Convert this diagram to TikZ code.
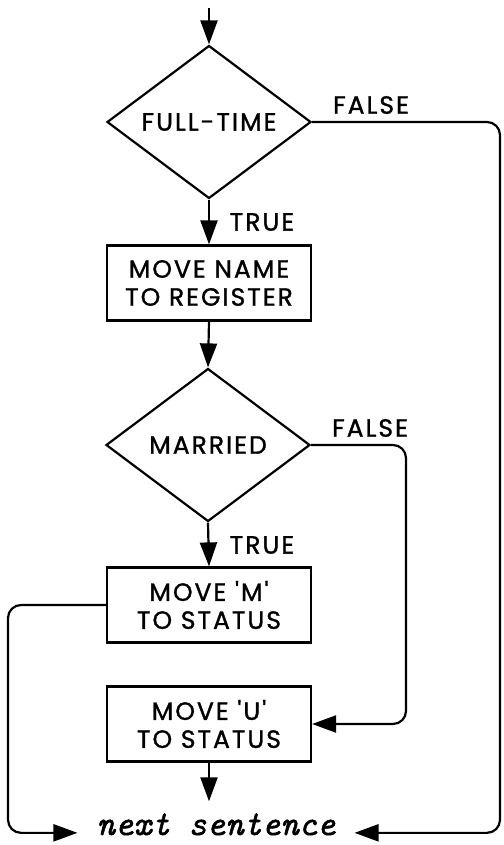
\documentclass[tikz,border=0pt]{standalone}
\usepackage{fontspec}
\usetikzlibrary{shapes.geometric,arrows.meta}
\newfontfamily\lblfont{Poppins}[LetterSpace=8,FakeBold=1.2]
\newfontfamily\endfont{Latin Modern Mono}[FakeBold=1.5]
\begin{document}
\begin{tikzpicture}[x=1pt,y=-1pt,
  line width=2.2pt,
  flow/.style={-{Triangle[length=24pt,width=17pt]}},
  lbl/.style={font=\lblfont\fontsize{25}{28}\selectfont, inner sep=0pt},
  decision/.style={draw, diamond, lbl, minimum width=204pt, minimum height=153pt},
  process/.style={draw, rectangle, lbl, minimum width=204pt, minimum height=75pt, align=center},
  ending/.style={font=\endfont\itshape\fontsize{35}{40}\selectfont, inner xsep=18pt, inner ysep=1pt, anchor=base},
  roundflow/.style={flow, rounded corners=13pt}
]
\useasboundingbox (0,0) rectangle (503,845);

% nodes
\coordinate (start) at (209,8);
\node[decision] (d1) at (209,122) {FULL-TIME};
\node[lbl] (f1) at (371,105) {FALSE};
\node[lbl] (t1) at (262,222) {TRUE};
\node[process] (b1) at (209,283) {MOVE NAME\\TO REGISTER};
\node[decision] (d2) at (208,445) {MARRIED};
\node[lbl] (f2) at (370,428) {FALSE};
\node[lbl] (t2) at (262,545) {TRUE};
\node[process] (b2) at (209,605) {MOVE 'M'\\TO STATUS};
\node[process] (b3) at (209,724) {MOVE 'U'\\TO STATUS};
\node[ending] (ns) at (216,835) {next sentence};

% routing columns
\coordinate (lr) at (8,0);
\coordinate (mr) at (406,0);
\coordinate (rr) at (500,0);

% connectors
\draw[flow] (start) -- (d1.north);
\draw[flow] (d1.south) -- (b1.north);
\draw[flow] (b1.south) -- (d2.north);
\draw[flow] (d2.south) -- (b2.north);
\draw[flow, shorten >=10pt] (b3.south) -- (b3.south |- ns.north);
\draw[roundflow] (d1.east) -| (rr |- ns.mid east) -- (ns.mid east);
\draw[roundflow] (d2.east) -| (mr |- b3.east) -- (b3.east);
\draw[roundflow] (b2.west) -| (lr |- ns.mid west) -- (ns.mid west);
\end{tikzpicture}
\end{document}
